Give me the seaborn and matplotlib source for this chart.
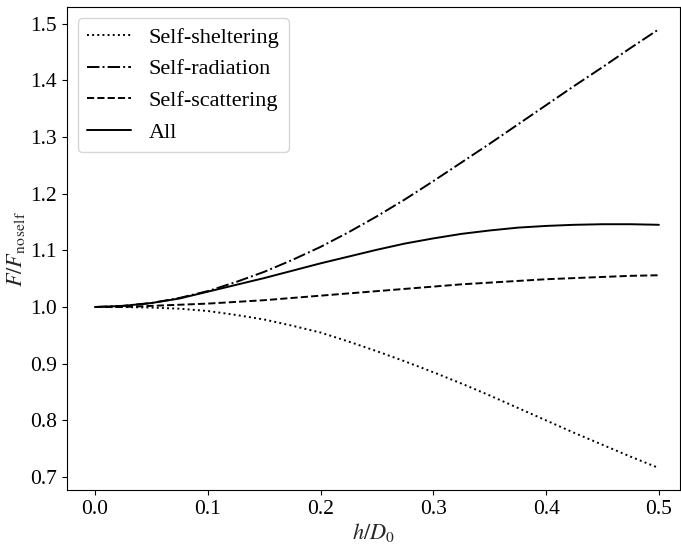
import numpy as np
import pandas as pd
import matplotlib
matplotlib.use("Agg")
import matplotlib.pyplot as plt
from matplotlib import font_manager
import seaborn as sns

# h/D0 sample points
h_d0 = [0.0, 0.025, 0.05, 0.075, 0.1, 0.125, 0.15, 0.175, 0.2, 0.225, 0.25,
        0.275, 0.3, 0.325, 0.35, 0.375, 0.4, 0.425, 0.45, 0.475, 0.5]

self_sheltering = [1.000, 1.000, 0.999, 0.997, 0.993, 0.986, 0.978, 0.967, 0.955, 0.939, 0.922,
                   0.904, 0.885, 0.865, 0.844, 0.822, 0.800, 0.778, 0.757, 0.736, 0.716]
self_radiation = [1.000, 1.002, 1.007, 1.016, 1.028, 1.044, 1.062, 1.083, 1.106, 1.132, 1.160,
                  1.190, 1.222, 1.255, 1.288, 1.322, 1.356, 1.390, 1.423, 1.457, 1.490]
self_scattering = [1.000, 1.000, 1.002, 1.004, 1.006, 1.009, 1.012, 1.016, 1.020, 1.024, 1.028,
                   1.032, 1.036, 1.040, 1.043, 1.046, 1.049, 1.051, 1.053, 1.055, 1.056]
all_effects = [1.000, 1.002, 1.007, 1.015, 1.027, 1.039, 1.051, 1.064, 1.077, 1.089, 1.101,
               1.112, 1.121, 1.129, 1.135, 1.140, 1.143, 1.145, 1.146, 1.146, 1.145]

series = [("Self-sheltering", self_sheltering, ":"),
          ("Self-radiation", self_radiation, "-."),
          ("Self-scattering", self_scattering, "--"),
          ("All", all_effects, "-")]

sns.set_style("ticks", {"axes.edgecolor": "black", "text.color": "black",
                        "xtick.color": "black", "ytick.color": "black"})

# pick a Times-like serif that is actually installed
names = {f.name for f in font_manager.fontManager.ttflist}
serif = [n for n in ["Liberation Serif", "Times New Roman", "Nimbus Roman", "STIXGeneral"] if n in names]
plt.rcParams["font.family"] = serif + ["DejaVu Serif"]
plt.rcParams["mathtext.fontset"] = "stix"
plt.rcParams["font.size"] = 16

fig = plt.figure(figsize=(6.81, 5.44), dpi=100)
ax = fig.add_axes([0.098, 0.099, 0.901, 0.888])

for name, vals, ls in series:
    df = pd.DataFrame({"x": h_d0, "y": vals})
    sns.lineplot(data=df, x="x", y="y", ax=ax, color="black", linestyle=ls,
                 linewidth=1.4, label=name)

ax.set_xlim(-0.025, 0.519)
ax.set_ylim(0.677, 1.529)
ax.set_xticks([0.0, 0.1, 0.2, 0.3, 0.4, 0.5])
ax.set_yticks([0.7, 0.8, 0.9, 1.0, 1.1, 1.2, 1.3, 1.4, 1.5])
ax.tick_params(labelsize=15.5)
ax.set_xlabel(r"$h/D_0$", fontsize=16, labelpad=1.5)
ax.set_ylabel(r"$F/F_{\mathrm{no\,self}}$", fontsize=16, labelpad=2)
ax.legend(loc="upper left", fontsize=16, frameon=True)

fig.savefig("out.png", dpi=100)
